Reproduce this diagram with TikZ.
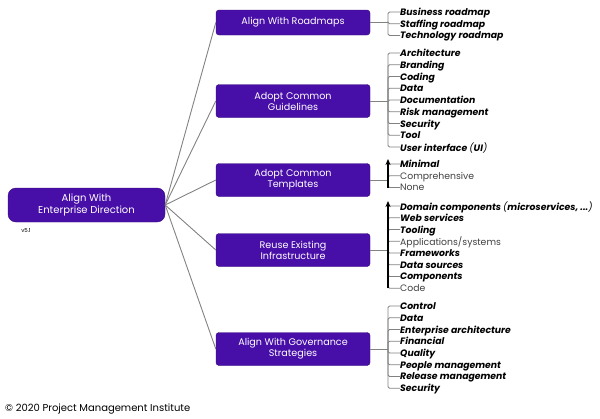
\documentclass[tikz,border=0pt]{standalone}
\usepackage{fontspec}
\setmainfont{Poppins}
\usepackage{tikz}
\usetikzlibrary{arrows.meta}
\definecolor{pmipurple}{RGB}{72,14,168}
\definecolor{pmidark}{RGB}{52,8,120}
\definecolor{linegray}{RGB}{130,130,130}

\begin{document}
\begin{tikzpicture}[x=1pt,y=-1pt,>=Stealth,
  goal/.style={rectangle,draw=pmidark,fill=pmipurple,rounded corners=3pt,text=white,align=center,minimum width=154pt,minimum height=25pt,inner sep=2pt,font=\fontsize{9.6}{11}\selectfont},
  link/.style={draw=linegray,line width=0.9pt},
  itemb/.style={anchor=west,inner sep=0pt,text depth=0pt,font=\fontsize{9.3}{10}\selectfont\bfseries\itshape},
  itemr/.style={anchor=west,inner sep=0pt,text depth=0pt,text=black!75,font=\fontsize{9.3}{10}\selectfont},
  trend/.style={line width=1.3pt,-{Stealth[length=6pt,width=5pt]}}]
\useasboundingbox (0,0) rectangle (600,418);
% root
\node [goal,minimum width=157pt,minimum height=34pt,rounded corners=8pt,font=\fontsize{10}{11.5}\selectfont](dir) at (86.5,205) {Align With\\Enterprise Direction};
\node [font=\fontsize{5.5}{6}\selectfont,inner sep=0pt](ver) at (26,231) {v5.1};
% branches
\node [goal](rm) at (293,22.5) {Align With Roadmaps};
\node [goal,minimum height=33pt](gl) at (293,101) {Adopt Common\\Guidelines};
\node [goal,minimum height=33pt](tp) at (293,180) {Adopt Common\\Templates};
\node [goal,minimum height=33pt](inf) at (293,250) {Reuse Existing\\Infrastructure};
\node [goal,minimum height=33pt](gov) at (293,349) {Align With Governance\\Strategies};
\foreach \b in {rm,gl,tp,inf,gov}
  \draw[link] (dir.east) -- (\b.west);
% junctions
\coordinate (rmj) at (388,22.5);
\coordinate (glj) at (388,101);
\coordinate (tpj) at (388,180);
\coordinate (infj) at (388,250);
\coordinate (govj) at (388,349);
\foreach \b in {rm,gl,tp,inf,gov}
  \draw[link] (\b.east) -- (\b j);
% leaves
\foreach \s/\t [count=\i] in {b/Business roadmap,b/Staffing roadmap,b/Technology roadmap}{
  \node [item\s](rm\i) at (400,0.25+11.75*\i) {\t};
  \draw[link,rounded corners=1.5pt] (rmj) |- (rm\i.west);
}
\foreach \s/\t [count=\i] in {b/Architecture,b/Branding,b/Coding,b/Data,b/Documentation,b/Risk management,b/Security,b/Tool,b/{User interface \textmd{(}UI\textmd{)}}}{
  \node [item\s](gl\i) at (400,41.25+11.75*\i) {\t};
  \draw[link,rounded corners=1.5pt] (glj) |- (gl\i.west);
}
\foreach \s/\t [count=\i] in {b/Minimal,r/Comprehensive,r/None}{
  \node [item\s](tp\i) at (400,152.25+11.75*\i) {\t};
  \draw[link,rounded corners=1.5pt] (tpj) |- (tp\i.west);
}
\foreach \s/\t [count=\i] in {b/{Domain components \textmd{(}microservices, ...\textmd{)}},b/Web services,b/Tooling,r/{Applications/systems},b/Frameworks,b/Data sources,b/Components,r/Code}{
  \node [item\s](inf\i) at (400,194.25+11.75*\i) {\t};
  \draw[link,rounded corners=1.5pt] (infj) |- (inf\i.west);
}
\foreach \s/\t [count=\i] in {b/Control,b/Data,b/Enterprise architecture,b/Financial,b/Quality,b/People management,b/Release management,b/Security}{
  \node [item\s](gov\i) at (400,294.25+11.75*\i) {\t};
  \draw[link,rounded corners=1.5pt] (govj) |- (gov\i.west);
}
% scale arrows
\coordinate (tptop) at (388,159);
\coordinate (tpbot) at (388,187.5);
\coordinate (inftop) at (388,201);
\coordinate (infbot) at (388,288.25);
\draw[trend] (tpbot) -- (tptop);
\draw[trend] (infbot) -- (inftop);
\node [anchor=west,inner sep=0pt,font=\fontsize{10}{11}\selectfont](copy) at (5,409) {© 2020 Project Management Institute};
\end{tikzpicture}
\end{document}
